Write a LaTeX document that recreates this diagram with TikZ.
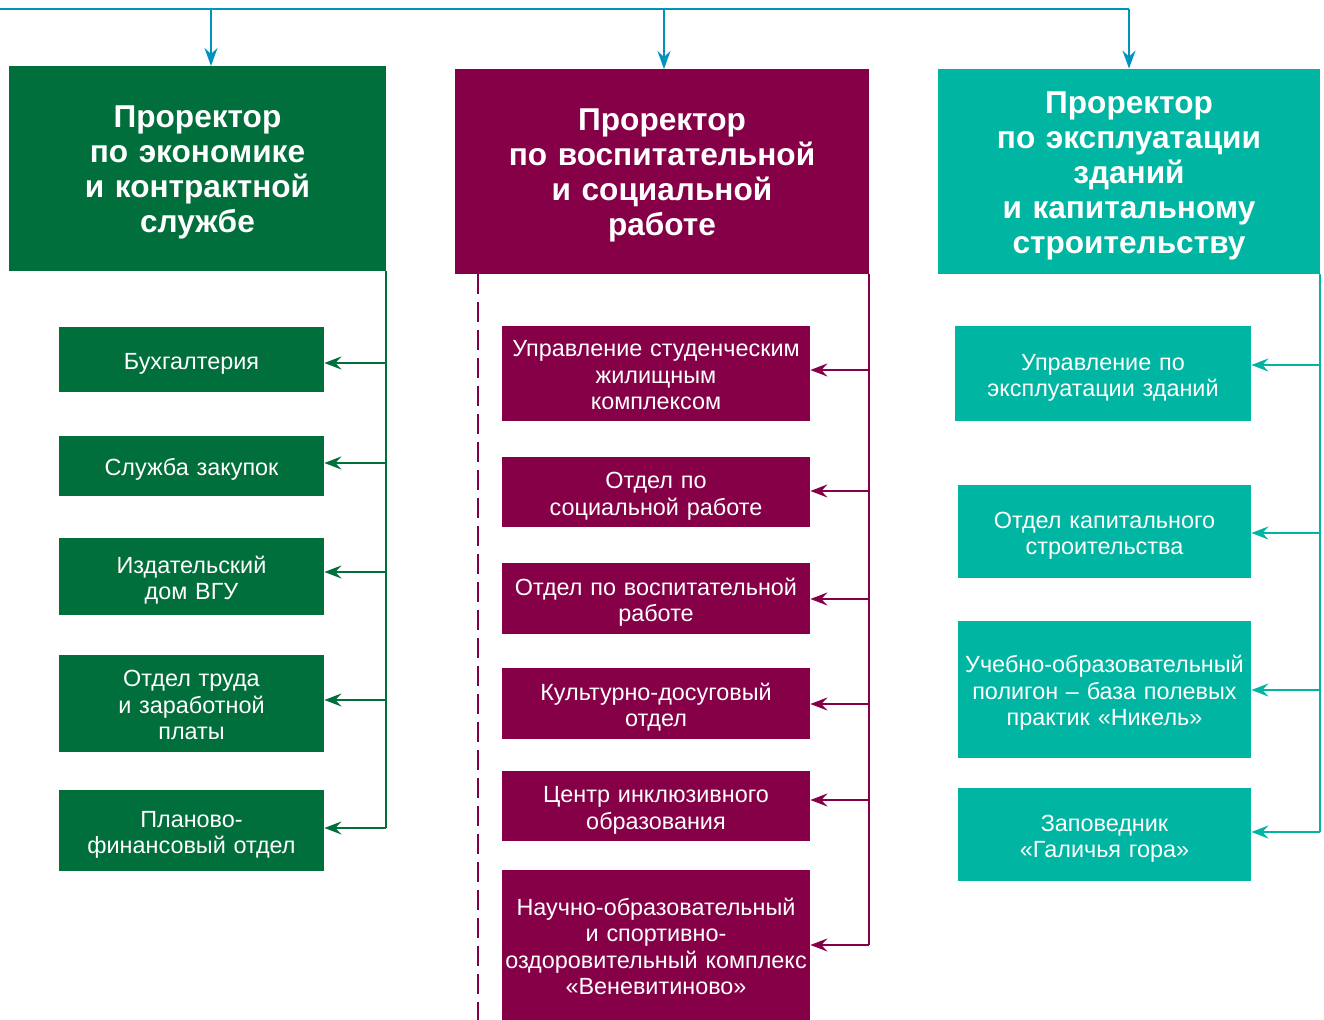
\documentclass[tikz,border=0pt]{standalone}
\usepackage{fontspec}
\setmainfont{Liberation Sans}
\usetikzlibrary{arrows.meta,calc}
\definecolor{econgreen}{RGB}{0,111,59}
\definecolor{vospred}{RGB}{134,0,72}
\definecolor{expteal}{RGB}{0,181,162}
\definecolor{busblue}{RGB}{0,147,189}
\tikzset{
  head/.style={fill=#1, text=white, inner sep=0pt, align=center,
    font=\fontsize{15.8}{17.5}\selectfont\bfseries,
    execute at begin node={\rule{0pt}{16pt}},
    execute at end node={\rule[-4.2pt]{0pt}{4.2pt}}},
  unit/.style={fill=#1, text=white, inner sep=0pt, align=center,
    font=\fontsize{11.7}{13.25}\selectfont,
    execute at begin node={\rule{0pt}{13pt}},
    execute at end node={\rule[-3pt]{0pt}{3pt}}},
  econunit/.style={unit=econgreen, minimum width=132.5pt, text width=130pt},
  vospunit/.style={unit=vospred, minimum width=154pt, text width=153pt},
  expunit/.style={unit=expteal, minimum width=146.5pt, text width=145pt},
  spine/.style={draw=#1, line width=1pt},
  link/.style={draw=#1, line width=1pt, -{Stealth[length=8.5pt,width=6.5pt,inset=3pt]}},
  drop/.style={draw=busblue, line width=1pt, -{Stealth[length=9pt,width=6.5pt,inset=3pt]}}
}
\begin{document}
\begin{tikzpicture}[x=0.5pt,y=-0.5pt]
\useasboundingbox (0,0) rectangle (1324,1020);

% heads
\node[head=econgreen, minimum width=188.5pt, minimum height=102.5pt, text width=186pt]
  (econ) at (197.5,168.5) {Проректор\\по экономике\\и контрактной\\службе};
\node[head=vospred, minimum width=207pt, minimum height=102.5pt, text width=205pt]
  (vosp) at (662,171.5) {Проректор\\по воспитательной\\и социальной\\работе};
\node[head=expteal, minimum width=191pt, minimum height=102.5pt, text width=189pt]
  (expl) at (1129,171.5) {Проректор\\по эксплуатации\\зданий\\и капитальному\\строительству};

% bus on top
\coordinate (bus) at (0,9);
\coordinate (econin) at (211,66);
\coordinate (vospin) at (664,69);
\draw[line width=1pt, busblue] (bus) -- (bus -| expl.north);
\draw[drop] (bus -| econin) -- (econin);
\draw[drop] (bus -| vospin) -- (vospin);
\draw[drop] (bus -| expl.north) -- (expl.north);

% economy
\node[econunit, minimum height=32.5pt] (buh) at (191.5,359.5) {Бухгалтерия};
\node[econunit, minimum height=30pt] (zak) at (191.5,466) {Служба закупок};
\node[econunit, minimum height=38.5pt] (izd) at (191.5,576.5) {Издательский\\дом ВГУ};
\node[econunit, minimum height=48.5pt] (trud) at (191.5,703.5) {Отдел труда\\и заработной\\платы};
\node[econunit, minimum height=40.5pt] (plan) at (191.5,830.5) {Планово-\\финансовый отдел};
\draw[spine=econgreen] (econ.south east) -- ($(econ.south east |- plan.east)+(0,-2.5)$);
\foreach \n/\dy in {buh/3.5,zak/-3,izd/-4.5,trud/-3.5,plan/-2.5}
  \draw[link=econgreen] ($(econ.south east |- \n.east)+(0,\dy)$) -- ($(\n.east)+(0,\dy)$);

% social
\node[vospunit, minimum height=47.5pt] (upr) at (656,373.5) {Управление студенческим\\жилищным\\комплексом};
\node[vospunit, minimum height=35pt] (soc) at (656,492) {Отдел по\\социальной работе};
\node[vospunit, minimum height=35.5pt] (vosr) at (656,598.5) {Отдел по воспитательной\\работе};
\node[vospunit, minimum height=35.5pt] (kult) at (656,703.5) {Культурно-досуговый\\отдел};
\node[vospunit, minimum height=35pt] (incl) at (656,806) {Центр инклюзивного\\образования};
\node[vospunit, minimum height=75pt] (nauk) at (656,945) {Научно-образовательный\\и спортивно-\\оздоровительный комплекс\\«Веневитиново»};
\draw[spine=vospred] (vosp.south east) -- (vosp.south east |- nauk.east);
\foreach \n/\dy in {upr/-3.5,soc/-1,vosr/0.5,kult/0.5,incl/-6,nauk/0}
  \draw[link=vospred] ($(vosp.south east |- \n.east)+(0,\dy)$) -- ($(\n.east)+(0,\dy)$);
\coordinate (dashtop) at (478,274);
\coordinate (dashend) at (478,1020);
\draw[vospred, line width=1pt, dash pattern=on 10pt off 4pt] (dashtop) -- (dashend);

% buildings
\node[expunit, minimum width=148pt, minimum height=47.5pt] (uez) at (1103,373.5) {Управление по\\эксплуатации зданий};
\node[expunit, minimum height=46.5pt] (oks) at (1104.5,531.5) {Отдел капитального\\строительства};
\node[expunit, minimum height=68.5pt] (pol) at (1104.5,689.5) {Учебно-образовательный\\полигон – база полевых\\практик «Никель»};
\node[expunit, minimum height=46.5pt] (zap) at (1104.5,834.5) {Заповедник\\«Галичья гора»};
\draw[spine=expteal] ($(expl.south east)+(-0.5,0)$) -- ($(expl.south east |- zap.east)+(-0.5,-2.5)$);
\foreach \n/\dy in {uez/-8.5,oks/1.5,pol/0.5,zap/-2.5}
  \draw[link=expteal] ($(expl.south east |- \n.east)+(-0.5,\dy)$) -- ($(\n.east)+(0,\dy)$);
\end{tikzpicture}
\end{document}
